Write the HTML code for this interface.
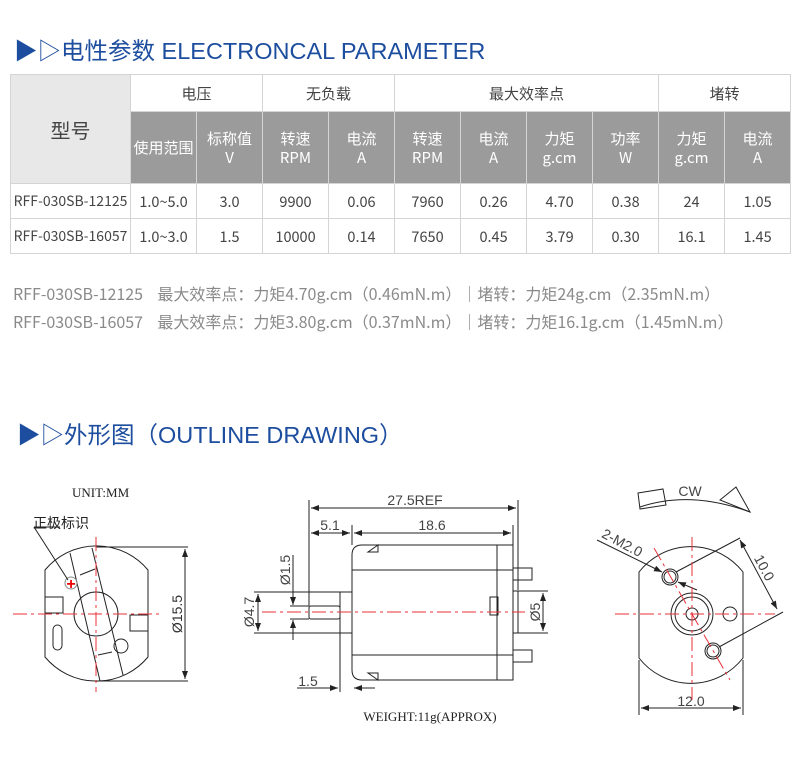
<!DOCTYPE html>
<html><head><meta charset="utf-8"><style>
body{margin:0;width:800px;height:762px;background:#fff;position:relative;overflow:hidden;font-family:"Liberation Sans","Noto Sans CJK SC",sans-serif}
.t{position:absolute;color:#1c4d9e;font-size:23.5px;white-space:nowrap}
table{position:absolute;left:10px;top:74px;border-collapse:collapse;table-layout:fixed;width:780px;font-family:"Noto Sans CJK SC",sans-serif}
td{border:1px solid #d4d4d4;text-align:center;font-size:14.5px;color:#444;padding:0;line-height:19px}
.g{background:#9b9b9b;color:#fff;font-size:15px}
.l{background:#e8e8e8;font-size:20px}
.n{position:absolute;color:#8a8a8a;font-size:16px;white-space:nowrap;font-family:"Noto Sans CJK SC",sans-serif}
</style></head><body>
<div class="t" style="left:14px;top:32px">▶▷电性参数 ELECTRONCAL PARAMETER</div>
<table>
<colgroup><col style="width:120px"><col style="width:66px"><col style="width:66px"><col style="width:66px"><col style="width:66px"><col style="width:66px"><col style="width:66px"><col style="width:66px"><col style="width:66px"><col style="width:66px"><col style="width:66px"></colgroup>
<tr style="height:37px"><td class="l" rowspan="2">型号</td><td colspan="2" style="font-size:15px">电压</td><td colspan="2" style="font-size:15px">无负载</td><td colspan="4" style="font-size:15px">最大效率点</td><td colspan="2" style="font-size:15px">堵转</td></tr>
<tr style="height:72px"><td class="g">使用范围</td><td class="g">标称值<br>V</td><td class="g">转速<br>RPM</td><td class="g">电流<br>A</td><td class="g">转速<br>RPM</td><td class="g">电流<br>A</td><td class="g">力矩<br>g.cm</td><td class="g">功率<br>W</td><td class="g">力矩<br>g.cm</td><td class="g">电流<br>A</td></tr>
<tr style="height:35px"><td style="font-size:14px">RFF-030SB-12125</td><td>1.0~5.0</td><td>3.0</td><td>9900</td><td>0.06</td><td>7960</td><td>0.26</td><td>4.70</td><td>0.38</td><td>24</td><td>1.05</td></tr>
<tr style="height:35px"><td style="font-size:14px">RFF-030SB-16057</td><td>1.0~3.0</td><td>1.5</td><td>10000</td><td>0.14</td><td>7650</td><td>0.45</td><td>3.79</td><td>0.30</td><td>16.1</td><td>1.45</td></tr>
</table>
<div class="n" style="left:13px;top:281px">RFF-030SB-12125&nbsp;&nbsp;&nbsp;&nbsp;最大效率点：力矩4.70g.cm（0.46mN.m）｜堵转：力矩24g.cm（2.35mN.m）</div>
<div class="n" style="left:13px;top:309px">RFF-030SB-16057&nbsp;&nbsp;&nbsp;&nbsp;最大效率点：力矩3.80g.cm（0.37mN.m）｜堵转：力矩16.1g.cm（1.45mN.m）</div>
<div class="t" style="left:17px;top:416px">▶▷外形图（OUTLINE DRAWING）</div>
<svg style="position:absolute;left:0;top:0" width="800" height="762" font-family="Liberation Serif,serif">
<defs><marker id="a" markerWidth="8" markerHeight="6" refX="8" refY="3" orient="auto-start-reverse"><path d="M0,0L8,3L0,6z" fill="#222"/></marker></defs>
<g stroke="#222" fill="none" stroke-width="1">
<path d="M45,570 A67,67 0 0 1 148,570 L148,657 A67,67 0 0 1 45,657 Z"/>
<circle cx="96" cy="614" r="22"/>
<line x1="70" y1="553" x2="100" y2="681"/><line x1="92" y1="548" x2="123" y2="675"/>
<rect x="45" y="597" width="18" height="16"/><rect x="130" y="615" width="18" height="16"/>
<rect x="53" y="625" width="9" height="25" rx="4.5"/>
<circle cx="71" cy="583" r="6" stroke="#888"/>
<circle cx="121" cy="646" r="7"/>
<line x1="80" y1="575" x2="95" y2="569"/><line x1="98" y1="655" x2="112" y2="652"/>
<line x1="96" y1="547" x2="188" y2="547"/><line x1="96" y1="681" x2="188" y2="681"/>
<line x1="185" y1="549" x2="185" y2="679" marker-start="url(#a)" marker-end="url(#a)"/>
<line x1="34" y1="527" x2="68" y2="580"/><line x1="34" y1="527" x2="60" y2="527"/>
</g>
<g stroke="#e8323a" stroke-dasharray="14,4,3,4" stroke-width="1"><line x1="13" y1="614" x2="162" y2="614"/><line x1="96" y1="537" x2="96" y2="692"/></g>
<text x="71" y="589" fill="#e00" font-size="16" font-weight="bold" text-anchor="middle" font-family="Liberation Sans">+</text>
<text x="72" y="497" font-size="13" fill="#222">UNIT:MM</text>
<text x="33" y="528" font-size="14" fill="#222" font-family="Noto Sans CJK SC,sans-serif">正极标识</text>
<text transform="translate(182,614) rotate(-90)" font-size="14" fill="#333" text-anchor="middle" font-family="Liberation Sans">Ø15.5</text>
<g stroke="#222" fill="none">
<path d="M362,545 L513,545 L513,680 L362,680 Q352,680 352,670 L352,555 Q352,545 362,545Z"/>
<line x1="352" y1="570" x2="513" y2="570"/><line x1="352" y1="655" x2="513" y2="655"/>
<line x1="497" y1="545" x2="497" y2="680"/>
<rect x="309" y="606" width="31" height="13" rx="2"/>
<rect x="340" y="592" width="12" height="41"/>
<rect x="513" y="568" width="19" height="12"/><rect x="513" y="650" width="19" height="12"/>
<rect x="513" y="591" width="5" height="42"/>
<rect x="490" y="597" width="8" height="18"/>
<path d="M378,545 L368,552 L378,552Z"/><path d="M378,680 L368,673 L378,673Z"/>
<line x1="309" y1="500" x2="309" y2="606"/><line x1="518" y1="500" x2="518" y2="590"/><line x1="352" y1="525" x2="352" y2="545"/><line x1="513" y1="525" x2="513" y2="545"/>
<line x1="311" y1="508" x2="516" y2="508" marker-start="url(#a)" marker-end="url(#a)"/>
<line x1="311" y1="533" x2="350" y2="533" marker-start="url(#a)" marker-end="url(#a)"/>
<line x1="354" y1="533" x2="511" y2="533" marker-start="url(#a)" marker-end="url(#a)"/>
<line x1="290" y1="606" x2="309" y2="606"/><line x1="290" y1="619" x2="309" y2="619"/>
<line x1="293" y1="555" x2="293" y2="605" marker-end="url(#a)"/><line x1="293" y1="620" x2="293" y2="640" marker-start="url(#a)"/>
<line x1="254" y1="592" x2="340" y2="592"/><line x1="254" y1="633" x2="340" y2="633"/>
<line x1="258" y1="594" x2="258" y2="631" marker-start="url(#a)" marker-end="url(#a)"/>
<line x1="518" y1="591" x2="548" y2="591"/><line x1="518" y1="633" x2="548" y2="633"/>
<line x1="543" y1="593" x2="543" y2="631" marker-start="url(#a)" marker-end="url(#a)"/>
<line x1="340" y1="633" x2="340" y2="692"/>
<line x1="297" y1="688" x2="338" y2="688" marker-end="url(#a)"/><line x1="354" y1="688" x2="375" y2="688" marker-start="url(#a)"/>
</g>
<line x1="262" y1="612" x2="525" y2="612" stroke="#e8323a" stroke-dasharray="14,4,3,4"/>
<g font-family="Liberation Sans" font-size="14" fill="#444">
<text x="415" y="505" text-anchor="middle">27.5REF</text>
<text x="330" y="530" text-anchor="middle">5.1</text>
<text x="432" y="530" text-anchor="middle">18.6</text>
<text transform="translate(290,570) rotate(-90)" text-anchor="middle">Ø1.5</text>
<text transform="translate(254,612) rotate(-90)" text-anchor="middle">Ø4.7</text>
<text transform="translate(540,612) rotate(-90)" text-anchor="middle">Ø5</text>
<text x="308" y="686" text-anchor="middle">1.5</text>
<text x="690" y="496" text-anchor="middle">CW</text>
<text transform="translate(760,570) rotate(62)" text-anchor="middle">10.0</text>
<text transform="translate(620,547) rotate(28)" text-anchor="middle">2-M2.0</text>
<text x="691" y="706" text-anchor="middle">12.0</text>
</g>
<text x="430" y="721" font-size="13" fill="#222" text-anchor="middle">WEIGHT:11g(APPROX)</text>
<g stroke="#222" fill="none">
<path d="M639,572 A66,66 0 0 1 743,572 L743,658 A66,66 0 0 1 639,658 Z"/>
<circle cx="692" cy="614" r="21"/><circle cx="692" cy="614" r="17"/><circle cx="692" cy="614" r="6"/>
<circle cx="730" cy="614" r="7"/>
<circle cx="670" cy="577" r="8"/><circle cx="670" cy="577" r="6"/>
<circle cx="713" cy="651" r="8"/><circle cx="713" cy="651" r="6"/>
<line x1="639" y1="660" x2="639" y2="715"/><line x1="743" y1="660" x2="743" y2="715"/>
<line x1="641" y1="708" x2="741" y2="708" marker-start="url(#a)" marker-end="url(#a)"/>
<line x1="676" y1="572" x2="740" y2="538"/><line x1="719" y1="647" x2="783" y2="612"/>
<line x1="740" y1="540" x2="777" y2="609" marker-start="url(#a)" marker-end="url(#a)"/>
<line x1="597" y1="540" x2="662" y2="572" marker-end="url(#a)"/><line x1="678" y1="582" x2="697" y2="590" marker-start="url(#a)"/>
<path d="M640,507 Q690,490 750,512"/>
<path d="M638,493 L663,489 L666,505 L640,509Z"/>
<path d="M720,500 L736,487 L750,512Z"/>
</g>
<g stroke="#e8323a" stroke-dasharray="14,4,3,4"><line x1="615" y1="614" x2="775" y2="614"/><line x1="692" y1="537" x2="692" y2="700"/><line x1="654" y1="548" x2="730" y2="680"/></g>
</svg>
</body></html>
